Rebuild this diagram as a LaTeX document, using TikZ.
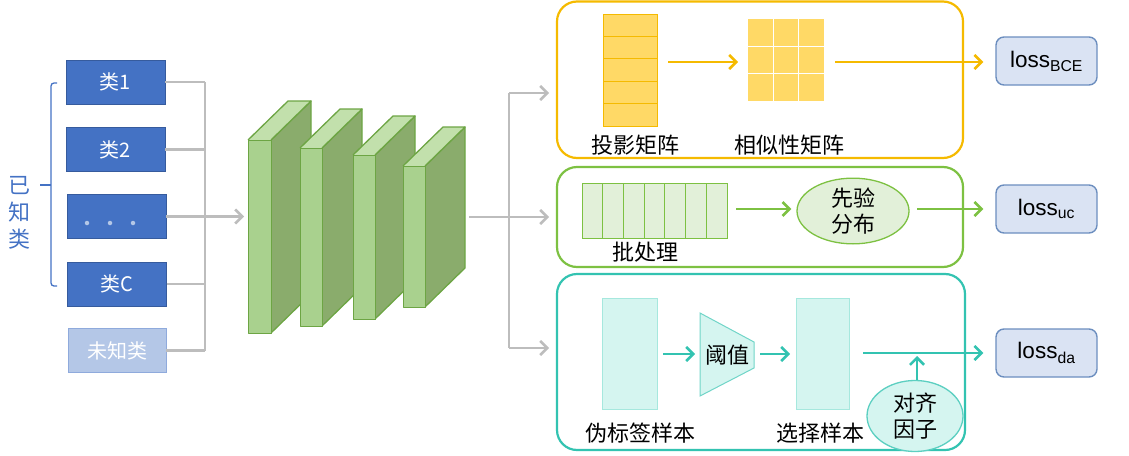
\documentclass[tikz,border=0pt]{standalone}
\usepackage{fontspec}
\setmainfont{Noto Sans CJK SC}
\newfontfamily\lossfont{Liberation Sans}
\usetikzlibrary{arrows.meta,shapes.geometric,calc}
\definecolor{blueD}{HTML}{4472C4}
\definecolor{blueL}{HTML}{B4C7E7}
\definecolor{blueLB}{HTML}{8FAADC}
\definecolor{grayL}{HTML}{BDBDBD}
\definecolor{gFront}{HTML}{A9D18E}
\definecolor{gSide}{HTML}{8AAC6C}
\definecolor{gTop}{HTML}{C2E0AC}
\definecolor{gEdge}{HTML}{6DA544}
\definecolor{yel}{HTML}{F5BA00}
\definecolor{yelF}{HTML}{FFD966}
\definecolor{grn}{HTML}{7DC142}
\definecolor{grnF}{HTML}{E2F0D9}
\definecolor{teal}{HTML}{33C3B1}
\definecolor{tealF}{HTML}{D5F5F0}
\definecolor{tealB}{HTML}{A6E8DE}
\definecolor{lossF}{HTML}{DAE3F3}
\definecolor{lossB}{HTML}{6C8EBF}
\tikzset{
  clsbox/.style={draw=blueD!80!black, fill=blueD, text=white, minimum width=99pt, minimum height=44pt, inner sep=0pt, font=\fontsize{20}{24}\selectfont},
  unkbox/.style={draw=blueLB, fill=blueL, text=white, minimum width=98pt, minimum height=44pt, inner sep=0pt, font=\fontsize{20}{24}\selectfont},
  gl/.style={draw=grayL, line width=2.6pt},
  barb/.style={-{Straight Barb[length=7pt,width=14pt,line width=2.6pt]}},
  garrow/.style={gl, barb},
  face/.style={draw=gEdge, line width=1.3pt, line join=round},
  panel/.style={rounded corners=20pt, line width=2.2pt},
  cnarrow/.style={line width=2.6pt, barb},
  lossbox/.style={draw=lossB, fill=lossF, rounded corners=8pt, line width=1.4pt, minimum width=101pt, minimum height=48pt, inner sep=0pt, font=\lossfont\fontsize{22.5}{26}\selectfont},
  lbl/.style={font=\fontsize{22}{26}\selectfont, inner sep=0pt},
  dotmark/.style={circle, fill=blueL, minimum size=4.5pt, inner sep=0pt},
}
\begin{document}
\begin{tikzpicture}[x=1pt,y=-1pt]
\useasboundingbox (0,0) rectangle (1129,455);

% ---- left classes ----
\node[clsbox] (c1) at (115.5,82) {类1};
\node[clsbox] (c2) at (115.5,149.5) {类2};
\node[clsbox] (c3) at (116.5,216.5) {};
\node[dotmark] (d1) at (87,223) {};
\node[dotmark] (d2) at (110,223) {};
\node[dotmark] (d3) at (133,223) {};
\node[clsbox] (cC) at (117,284) {类C};
\node[unkbox] (cu) at (117,350.5) {未知类};
\node[text=blueD, align=center, font=\fontsize{22}{27}\selectfont, inner sep=0pt] (known) at (20,213) {已\\知\\类};
\draw[draw=blueD, line width=1.3pt, rounded corners=3pt] (57,83) -- (51,83) -- (51,286) -- (57,286);
\draw[draw=blueD, line width=1.3pt] (51,185) -- (40,185);

\coordinate (bus) at (205,0);
\foreach \n in {c1,c2,c3,cC,cu} { \draw[gl] (\n.east) -- (\n.east -| bus); }
\draw[gl] (c1.east -| bus) -- (cu.east -| bus);

% ---- 3D blocks ----
\foreach \i/\xa/\xb/\ya/\yb in {1/248/271/140/333, 2/300/322/148/326, 3/353/375/155/319, 4/403/425/166/307} {
  \fill[gSide] (\xb,\ya) -- (\xb+40,\ya-39) -- (\xb+40,\yb-39) -- (\xb,\yb) -- cycle;
  \draw[face] (\xb,\ya) -- (\xb+40,\ya-39) -- (\xb+40,\yb-39) -- (\xb,\yb);
  \fill[gTop] (\xa,\ya) -- (\xa+40,\ya-39) -- (\xb+40,\ya-39) -- (\xb,\ya) -- cycle;
  \draw[face] (\xa,\ya) -- (\xa+40,\ya-39) -- (\xb+40,\ya-39) -- (\xb,\ya);
  \node[face, fill=gFront, minimum width=\xb-\xa, minimum height=\yb-\ya, inner sep=0pt, anchor=north west] (f\i) at (\xa,\ya) {};
}
\draw[garrow, shorten >=4pt] (c3.east -| bus) -- (c3.east -| f1.west);

% ---- split ----
\coordinate (out) at (469,217);
\coordinate (split) at (509,217);
\coordinate (tA) at (549,93);
\coordinate (tB) at (549,217);
\coordinate (tC) at (549,348);
\draw[gl] (out) -- (split);
\draw[gl] (split |- tA) -- (split |- tC);
\draw[garrow] (split |- tA) -- (tA);
\draw[garrow] (split) -- (tB);
\draw[garrow] (split |- tC) -- (tC);

% ---- panels ----
\draw[panel, draw=yel] (557,1.5) rectangle (963,158);
\draw[panel, draw=grn] (557,167) rectangle (963,267);
\draw[panel, draw=teal] (557,274) rectangle (965,450);

% ---- top panel ----
\node[draw=yel, fill=yelF, line width=1pt, minimum width=54pt, minimum height=112pt, inner sep=0pt, anchor=north west] (proj) at (603,14) {};
\foreach \k in {1,2,3,4} { \draw[yel, line width=1pt] (603,14+22.4*\k) -- (657,14+22.4*\k); }
\node[fill=yelF, minimum width=76pt, minimum height=82pt, inner sep=0pt, anchor=north west] (sim) at (748,19) {};
\foreach \k in {1,2} {
  \draw[white, line width=1.3pt] (748+25.3*\k,19) -- (748+25.3*\k,101);
  \draw[white, line width=1.3pt] (748,19+27.3*\k) -- (824,19+27.3*\k);
}
\node[lbl] (projl) at (635,145) {投影矩阵};
\node[lbl] (siml) at (789,145) {相似性矩阵};
\node[lossbox] (lbce) at (1046.5,61) {loss\textsubscript{BCE}};
\coordinate (pa) at (668,62);
\coordinate (pb) at (835,62);
\draw[cnarrow, draw=yel, shorten >=10pt] (pa) -- (sim.west |- pa);
\draw[cnarrow, draw=yel, shorten >=12pt] (pb) -- (lbce.west |- pb);

% ---- middle panel ----
\node[draw=grn, fill=grnF, line width=1pt, minimum width=145pt, minimum height=55pt, inner sep=0pt, anchor=north west] (batch) at (582,183) {};
\foreach \k in {1,...,6} { \draw[grn, line width=1pt] (582+20.7*\k,183) -- (582+20.7*\k,238); }
\node[lbl] (batchl) at (645,252) {批处理};
\node[ellipse, draw=grn, fill=grnF, line width=1.3pt, minimum width=112pt, minimum height=61pt, inner sep=0pt, align=center, font=\fontsize{22}{26}\selectfont] (prior) at (853,211) {先验\\分布};
\node[lossbox] (luc) at (1046.5,209) {loss\textsubscript{uc}};
\coordinate (pc) at (917,209);
\draw[cnarrow, draw=grn, shorten <=8pt, shorten >=5pt] (batch.east |- pc) -- (prior.west |- pc);
\draw[cnarrow, draw=grn, shorten >=12pt] (pc) -- (luc.west |- pc);

% ---- bottom panel ----
\node[draw=tealB, fill=tealF, line width=1pt, minimum width=55pt, minimum height=111pt, inner sep=0pt, anchor=north west] (pseudo) at (602,298) {};
\node[draw=tealB, fill=tealF, line width=1pt, minimum width=53pt, minimum height=111pt, inner sep=0pt, anchor=north west] (sel) at (796,298) {};
\draw[draw=teal!70, fill=tealF, line width=1pt] (700,313) -- (754,342) -- (754,368) -- (700,396) -- cycle;
\node[lbl] (thr) at (727,355) {阈值};
\node[lbl] (pseudol) at (640,433) {伪标签样本};
\node[lbl] (sell) at (820,433) {选择样本};
\node[ellipse, draw=teal!80, fill=tealF, line width=1.3pt, minimum width=96pt, minimum height=71pt, inner sep=0pt, align=center, font=\fontsize{22}{26}\selectfont] (align) at (915,416) {对齐\\因子};
\node[lossbox] (lda) at (1046.5,353) {loss\textsubscript{da}};
\coordinate (thrIn) at (700,354);
\coordinate (thrOut) at (754,354);
\coordinate (jn) at (917,353);
\draw[cnarrow, draw=teal, shorten <=5pt, shorten >=5pt] (pseudo.east |- thrIn) -- (thrIn);
\draw[cnarrow, draw=teal, shorten <=6pt, shorten >=6pt] (thrOut) -- (sel.west |- thrOut);
\draw[cnarrow, draw=teal, shorten <=13pt, shorten >=12pt] (sel.east |- lda.west) -- (lda.west);
\draw[cnarrow, draw=teal, shorten >=3pt] (align.north -| jn) -- (jn);
\end{tikzpicture}
\end{document}
